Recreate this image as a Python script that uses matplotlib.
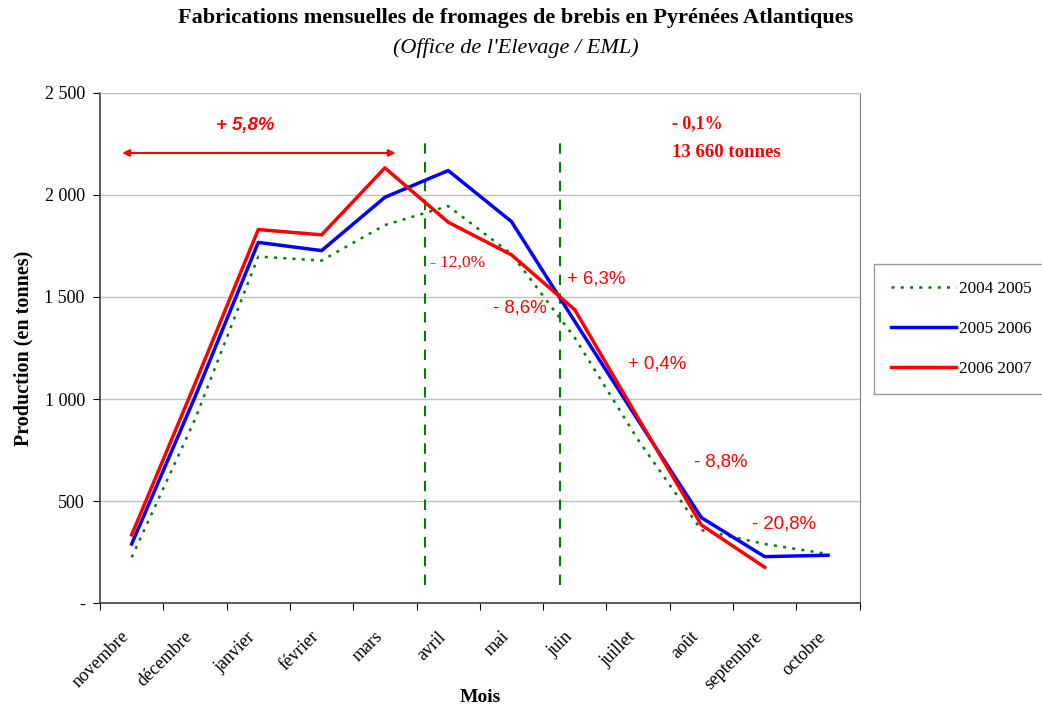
import matplotlib
matplotlib.use("Agg")
import matplotlib.pyplot as plt
import matplotlib.transforms as mtrans
import numpy as np

plt.rcParams['font.family'] = ['Liberation Serif', 'DejaVu Serif']

mois = ["novembre", "décembre", "janvier", "février", "mars", "avril",
        "mai", "juin", "juillet", "août", "septembre", "octobre"]
s0405 = [225, 900, 1698, 1678, 1852, 1945, 1710, 1300, 800, 358, 290, 241]
s0506 = [290, 1010, 1767, 1727, 1988, 2119, 1869, 1380, 896, 419, 228, 235]
s0607 = [335, 1075, 1830, 1804, 2132, 1866, 1706, 1437, 907, 383, 176]

y_ticks = [0, 500, 1000, 1500, 2000, 2500]
y_labels = ["-", "500", "1 000", "1 500", "2 000", "2 500"]

fig = plt.figure(figsize=(10.42, 7.08), dpi=100)
ax = fig.add_axes([0.096, 0.148, 0.729, 0.721])

x = np.arange(len(mois))
ax.plot(x, s0405, color="#008000", lw=1.8, ls=(0, (1.2, 2.5)), label="2004 2005", zorder=3)
ax.plot(x, s0506, color="#0000FF", lw=2.5, label="2005 2006", zorder=4)
ax.plot(np.arange(len(s0607)), s0607, color="#FF0000", lw=2.5, label="2006 2007", zorder=5)

# vertical markers
for xv in [4.63, 6.76]:
    ax.plot([xv, xv], [88, 2290], color="#008000", lw=1.5, ls=(0, (5, 4)), zorder=2)

# double arrow
ax.annotate("", xy=(-0.15, 2205), xytext=(4.17, 2205),
            arrowprops=dict(arrowstyle="<|-|>", color="#FF0000", lw=1.5,
                            mutation_scale=10, shrinkA=0, shrinkB=0))

red = "#FF0000"
ax.text(1.79, 2340, "+ 5,8%", color=red, fontsize=13.4, fontweight="bold",
        fontstyle="italic", family="Liberation Sans", ha="center", va="center")
ax.text(8.53, 2350, "- 0,1%", color=red, fontsize=13, fontweight="bold",
        ha="left", va="center")
ax.text(8.53, 2205, "13 660 tonnes", color=red, fontsize=13.5, fontweight="bold",
        ha="left", va="center")
ax.text(4.71, 1668, "- 12,0%", color=red, fontsize=12.5, ha="left", va="center")
ax.text(6.87, 1590, "+ 6,3%", color=red, fontsize=13.4, family="Liberation Sans",
        ha="left", va="center")
ax.text(5.71, 1447, "- 8,6%", color=red, fontsize=13.4, family="Liberation Sans",
        ha="left", va="center")
ax.text(7.84, 1174, "+ 0,4%", color=red, fontsize=13.4, family="Liberation Sans",
        ha="left", va="center")
ax.text(8.89, 690, "- 8,8%", color=red, fontsize=13.4, family="Liberation Sans",
        ha="left", va="center")
ax.text(9.8, 390, "- 20,8%", color=red, fontsize=13.4, family="Liberation Sans",
        ha="left", va="center")

ax.set_xlim(-0.5, 11.5)
ax.set_ylim(0, 2500)
ax.set_yticks(y_ticks)
ax.set_yticklabels(y_labels, fontsize=13)
ax.set_xticks(np.arange(-0.5, 12, 1))
ax.set_xticklabels([])
ax.set_xticks(x, minor=True)
ax.set_xticklabels(mois, minor=True, rotation=45, ha="right",
                   rotation_mode="anchor", fontsize=13)
ax.tick_params(axis="x", which="minor", length=0, pad=12)
ax.tick_params(axis="x", which="major", length=5, direction="out")
ax.tick_params(axis="y", length=5, direction="out", pad=6)
shift = mtrans.ScaledTranslation(-8 / 72, -6 / 72, fig.dpi_scale_trans)
for lab in ax.get_xticklabels(minor=True):
    lab.set_transform(lab.get_transform() + shift)

ax.yaxis.grid(True, color="#C0C0C0", lw=1)
ax.set_axisbelow(True)
for side in ["left", "bottom"]:
    ax.spines[side].set_color("#404040")
    ax.spines[side].set_linewidth(1.2)
ax.spines["top"].set_color("#C0C0C0")
ax.spines["right"].set_color("#808080")

ax.set_ylabel("Production (en tonnes)", fontsize=14.5, fontweight="bold", labelpad=8)
fig.text(480 / 1042, 1 - 697 / 708, "Mois", ha="center", va="center",
         fontsize=14, fontweight="bold")

fig.text(0.495, 1 - 18 / 708, "Fabrications mensuelles de fromages de brebis en Pyrénées Atlantiques",
         ha="center", va="center", fontsize=16, fontweight="bold")
fig.text(0.495, 1 - 48 / 708, "(Office de l'Elevage / EML)", ha="center", va="center",
         fontsize=16, fontstyle="italic")

leg = fig.legend(loc="upper left", bbox_to_anchor=(874 / 1042, 1 - 264 / 708),
                 fontsize=12.3, frameon=True, fancybox=False, edgecolor="#808080",
                 handlelength=3.8, labelspacing=1.4, borderpad=1.0, handletextpad=0.2,
                 borderaxespad=0)
leg.get_frame().set_linewidth(1)

fig.savefig("out.png", dpi=100)
